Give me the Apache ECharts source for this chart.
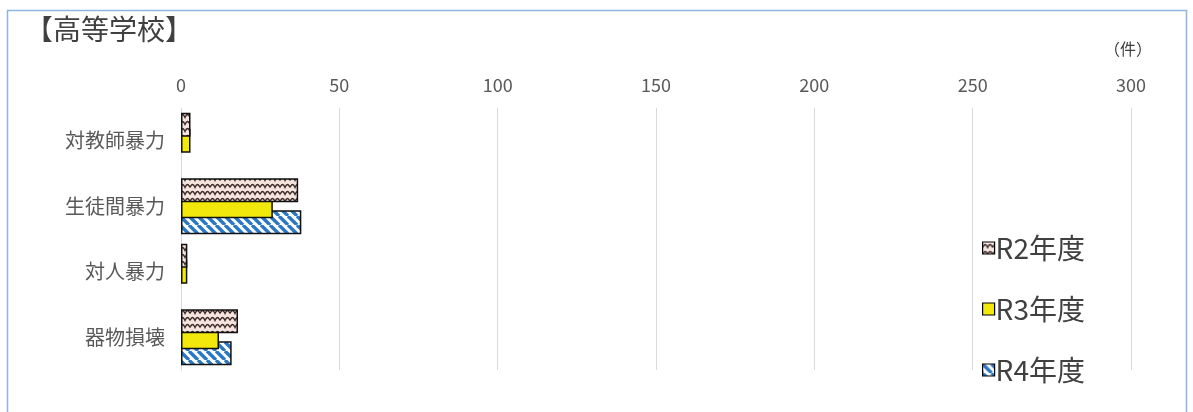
<!DOCTYPE html>
<html>
<head>
<meta charset="utf-8">
<script src="https://cdn.jsdelivr.net/npm/echarts@6/dist/echarts.min.js"></script>
<style>
  html, body { margin: 0; padding: 0; background: #fff; }
  #chart { width: 1193px; height: 412px; }
</style>
</head>
<body>
<div id="chart"></div>
<script>
// 高等学校における暴力行為の件数（年度別）
const categories = ['対教師暴力', '生徒間暴力', '対人暴力', '器物損壊'];
const seriesNames = ['R2年度', 'R3年度', 'R4年度'];
const valuesR2 = [3, 37, 2, 18];
const valuesR3 = [3, 29, 2, 12];
const valuesR4 = [0, 38, 0, 16];
const axisTicks = [0, 50, 100, 150, 200, 250, 300];

const FONT = '"Noto Sans CJK JP", "Noto Sans", sans-serif';

// 波形ハッチ（R2）
function wavePattern() {
  const c = document.createElement('canvas');
  c.width = 10; c.height = 7;
  const g = c.getContext('2d');
  g.fillStyle = '#f6e4de';
  g.fillRect(0, 0, 10, 7);
  g.strokeStyle = '#3b2b28';
  g.lineWidth = 1.3;
  g.beginPath();
  g.moveTo(0, 5.5);
  g.quadraticCurveTo(2.5, -0.5, 5, 5.5);
  g.quadraticCurveTo(7.5, -0.5, 10, 5.5);
  g.stroke();
  return c;
}

// 斜線ハッチ（R4）
function stripePattern() {
  const s = 9;
  const c = document.createElement('canvas');
  c.width = s; c.height = s;
  const g = c.getContext('2d');
  g.fillStyle = '#ffffff';
  g.fillRect(0, 0, s, s);
  g.strokeStyle = '#2a78c4';
  g.lineWidth = 3.4;
  g.beginPath();
  for (let k = -1; k <= 1; k++) {
    g.moveTo(k * s, 0);
    g.lineTo(k * s + s, s);
  }
  g.stroke();
  return c;
}

const fills = [
  { image: wavePattern(), repeat: 'repeat' },
  '#f3e80c',
  { image: stripePattern(), repeat: 'repeat' }
];
const dataSets = [valuesR2, valuesR3, valuesR4];
const zOrder = [4, 3, 2];

// 0件の棒は枠線も描かない
function toItems(values) {
  return values.map(v => v === 0 ? { value: v, itemStyle: { borderWidth: 0 } } : v);
}

const chart = echarts.init(document.getElementById('chart'), null, { renderer: 'canvas' });

chart.setOption({
  animation: false,
  backgroundColor: '#ffffff',
  textStyle: { fontFamily: FONT },
  grid: { left: 181, right: 62, top: 108, bottom: 42, containLabel: false },
  xAxis: {
    type: 'value',
    position: 'top',
    min: axisTicks[0],
    max: axisTicks[axisTicks.length - 1],
    interval: axisTicks[1] - axisTicks[0],
    axisLine: { show: false },
    axisTick: { show: false },
    axisLabel: { color: '#595959', fontSize: 18, margin: 14, fontFamily: FONT },
    splitLine: { lineStyle: { color: '#d9d9d9', width: 1 } }
  },
  yAxis: {
    type: 'category',
    inverse: true,
    data: categories,
    axisLine: { lineStyle: { color: '#d9d9d9', width: 1 } },
    axisTick: { show: false },
    axisLabel: { color: '#595959', fontSize: 20, margin: 16, fontFamily: FONT }
  },
  legend: {
    orient: 'vertical',
    left: 977,
    top: 229,
    icon: 'rect',
    itemWidth: 12,
    itemHeight: 12,
    itemGap: 33,
    data: seriesNames,
    textStyle: { color: '#404040', fontSize: 28, fontFamily: FONT, padding: [0, 0, 0, -4] },
    itemStyle: { borderColor: '#000', borderWidth: 1.2 }
  },
  graphic: [
    {
      type: 'rect',
      shape: { x: 7.5, y: 10.5, width: 1179, height: 420 },
      style: { fill: 'none', stroke: '#8fb6e0', lineWidth: 1.5 },
      silent: true
    },
    {
      type: 'text',
      left: 25, top: 15,
      style: { text: '【高等学校】', fill: '#404040', font: '28px ' + FONT }
    },
    {
      type: 'text',
      left: 1104, top: 41,
      style: { text: '（件）', fill: '#404040', font: '16px ' + FONT }
    }
  ],
  series: seriesNames.map((name, i) => ({
    name: name,
    type: 'bar',
    data: toItems(dataSets[i]),
    barWidth: 24,
    barGap: '-33%',
    z: zOrder[i],
    itemStyle: { color: fills[i], borderColor: '#111', borderWidth: 1.5 }
  }))
});
</script>
</body>
</html>
